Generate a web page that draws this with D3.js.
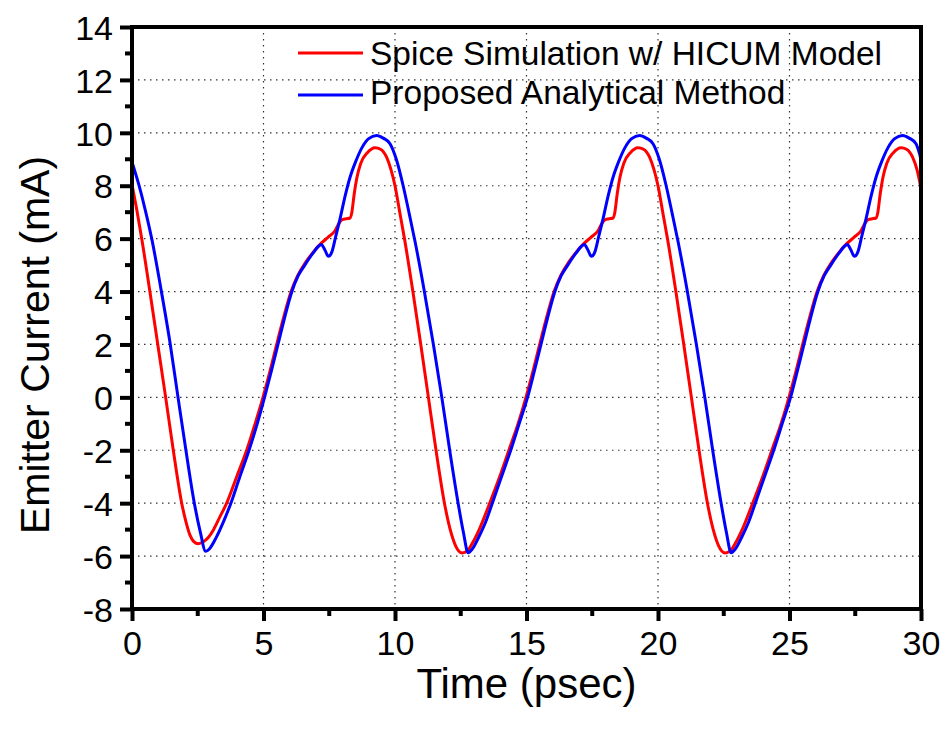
<!DOCTYPE html>
<html>
<head>
<meta charset="utf-8">
<script src="https://cdn.jsdelivr.net/npm/d3@7"></script>
<style>
  html, body { margin: 0; padding: 0; background: #fff; }
  svg { display: block; font-family: Arial, "Liberation Sans", sans-serif; }
</style>
</head>
<body>
<svg id="chart" width="948" height="740"></svg>
<script>
// ---- data ----
const seriesNames = ["Spice Simulation w/ HICUM Model", "Proposed Analytical Method"];
const seriesColors = ["#ff0000", "#0000ff"];

const spiceTime = [
  0.00,0.18,0.37,0.68,0.98,1.28,1.57,1.89,2.05,2.20,2.35,2.52,2.70,2.90,3.10,3.35,3.60,3.98,4.36,4.68,
  4.98,5.25,5.50,5.76,6.05,6.30,6.60,6.90,7.17,7.45,7.72,7.88,8.00,8.15,8.29,8.36,8.45,8.55,8.70,8.95,
  9.24,9.45,9.68,9.85,10.00,10.18,10.36,10.68,10.98,11.27,11.56,11.88,12.10,12.30,12.55,12.75,12.95,13.20,13.60,13.98,
  14.33,14.68,14.98,15.25,15.50,15.76,16.05,16.30,16.60,16.90,17.17,17.45,17.72,17.88,18.00,18.15,18.29,18.36,18.45,18.55,
  18.70,18.95,19.24,19.45,19.68,19.85,20.00,20.18,20.36,20.68,20.98,21.27,21.56,21.88,22.10,22.30,22.55,22.75,22.95,23.20,
  23.60,23.98,24.33,24.68,24.98,25.25,25.50,25.76,26.05,26.30,26.60,26.90,27.17,27.45,27.72,27.88,28.00,28.15,28.29,28.36,
  28.45,28.55,28.70,28.95,29.24,29.45,29.68,29.85,30.00
];
const spiceCurrent = [
  8.05,7.10,6.00,4.00,2.00,0.00,-2.00,-4.00,-4.70,-5.20,-5.45,-5.53,-5.47,-5.30,-5.00,-4.50,-4.00,-3.00,-2.00,-1.00,
  0.00,1.00,2.00,3.00,4.00,4.60,5.10,5.50,5.80,6.05,6.30,6.60,6.72,6.75,6.78,7.00,7.70,8.30,8.85,9.25,
  9.44,9.38,9.08,8.60,8.00,7.00,6.00,4.00,2.00,0.00,-2.00,-4.00,-5.00,-5.60,-5.88,-5.80,-5.50,-5.00,-4.00,-3.00,
  -2.00,-1.00,0.00,1.00,2.00,3.00,4.00,4.60,5.10,5.50,5.80,6.05,6.30,6.60,6.72,6.75,6.78,7.00,7.70,8.30,
  8.85,9.25,9.44,9.38,9.08,8.60,8.00,7.00,6.00,4.00,2.00,0.00,-2.00,-4.00,-5.00,-5.60,-5.88,-5.80,-5.50,-5.00,
  -4.00,-3.00,-2.00,-1.00,0.00,1.00,2.00,3.00,4.00,4.60,5.10,5.50,5.80,6.05,6.30,6.60,6.72,6.75,6.78,7.00,
  7.70,8.30,8.85,9.25,9.44,9.38,9.08,8.60,7.90
];

const modelTime = [
  0.00,0.27,0.50,0.75,1.10,1.44,1.75,2.05,2.37,2.60,2.80,2.95,3.20,3.50,3.76,4.10,4.45,4.76,5.04,
  5.30,5.55,5.80,6.08,6.32,6.57,6.88,7.10,7.20,7.32,7.47,7.60,7.75,7.91,8.10,8.30,8.50,8.75,9.00,9.30,
  9.55,9.81,10.05,10.31,10.55,10.76,11.10,11.46,11.78,12.08,12.40,12.60,12.78,12.95,13.20,13.45,13.70,14.05,14.40,14.72,
  15.04,15.30,15.55,15.80,16.08,16.32,16.57,16.88,17.10,17.20,17.32,17.47,17.60,17.75,17.91,18.10,18.30,18.50,18.75,19.00,
  19.30,19.55,19.81,20.05,20.31,20.55,20.76,21.10,21.46,21.78,22.08,22.40,22.60,22.78,22.95,23.20,23.45,23.70,24.05,24.40,
  24.72,25.04,25.30,25.55,25.80,26.08,26.32,26.57,26.88,27.10,27.20,27.32,27.47,27.60,27.75,27.91,28.10,28.30,28.50,28.75,
  29.00,29.30,29.55,29.81,30.00
];
const modelCurrent = [
  8.90,8.00,7.10,6.00,4.10,2.10,0.00,-2.00,-4.00,-5.10,-5.82,-5.72,-5.30,-4.65,-4.00,-3.00,-2.00,-1.00,0.00,
  1.00,2.00,3.00,4.00,4.60,5.00,5.45,5.72,5.78,5.60,5.33,5.50,6.10,6.75,7.60,8.35,8.90,9.45,9.78,9.90,
  9.80,9.59,9.00,8.00,6.90,5.90,4.10,2.00,0.00,-2.00,-4.00,-5.10,-5.87,-5.72,-5.25,-4.70,-4.00,-3.00,-2.00,-1.00,
  0.00,1.00,2.00,3.00,4.00,4.60,5.00,5.45,5.72,5.78,5.60,5.33,5.50,6.10,6.75,7.60,8.35,8.90,9.45,9.78,
  9.90,9.80,9.59,9.00,8.00,6.90,5.90,4.10,2.00,0.00,-2.00,-4.00,-5.10,-5.87,-5.72,-5.25,-4.70,-4.00,-3.00,-2.00,
  -1.00,0.00,1.00,2.00,3.00,4.00,4.60,5.00,5.45,5.72,5.78,5.60,5.33,5.50,6.10,6.75,7.60,8.35,8.90,9.45,
  9.78,9.90,9.80,9.59,9.00
];

const xTicks = [0, 5, 10, 15, 20, 25, 30];
const yTicks = [-8, -6, -4, -2, 0, 2, 4, 6, 8, 10, 12, 14];
const xMinor = [2.5, 7.5, 12.5, 17.5, 22.5, 27.5];
const yMinor = [-7, -5, -3, -1, 1, 3, 5, 7, 9, 11, 13];
const xTitle = "Time (psec)";
const yTitle = "Emitter Current (mA)";

// ---- layout ----
const W = 948, H = 740;
const margin = { left: 132, top: 27, right: 27, bottom: 131 };
const iw = W - margin.left - margin.right;
const ih = H - margin.top - margin.bottom;

const svg = d3.select("#chart");
const g = svg.append("g").attr("transform", `translate(${margin.left},${margin.top})`);

const x = d3.scaleLinear().domain([0, 30]).range([0, iw]);
const y = d3.scaleLinear().domain([-8, 14]).range([ih, 0]);

// grid
const grid = g.append("g").attr("class", "grid");
grid.selectAll("line.gx").data(xTicks.filter(d => d > 0 && d < 30)).enter().append("line")
  .attr("x1", d => x(d)).attr("x2", d => x(d)).attr("y1", 0).attr("y2", ih)
  .attr("stroke", "#333").attr("stroke-width", 1.2).attr("stroke-dasharray", "1.5,4.5");
grid.selectAll("line.gy").data(yTicks.filter(d => d > -8 && d < 14)).enter().append("line")
  .attr("y1", d => y(d)).attr("y2", d => y(d)).attr("x1", 0).attr("x2", iw)
  .attr("stroke", "#333").attr("stroke-width", 1.2).attr("stroke-dasharray", "1.5,4.5");

// series
const spice = spiceTime.map((t, i) => [t, spiceCurrent[i]]);
const model = modelTime.map((t, i) => [t, modelCurrent[i]]);
const line = d3.line().x(d => x(d[0])).y(d => y(d[1])).curve(d3.curveMonotoneX);

g.append("clipPath").attr("id", "clip").append("rect")
  .attr("x", 0).attr("y", 0).attr("width", iw).attr("height", ih);

g.append("path").datum(spice).attr("d", line).attr("fill", "none")
  .attr("stroke", seriesColors[0]).attr("stroke-width", 3).attr("stroke-linejoin", "round")
  .attr("clip-path", "url(#clip)");
g.append("path").datum(model).attr("d", line).attr("fill", "none")
  .attr("stroke", seriesColors[1]).attr("stroke-width", 3).attr("stroke-linejoin", "round")
  .attr("clip-path", "url(#clip)");

// axes
const fontSize = 34;
const fmt = d => String(d);
const xAxis = d3.axisBottom(x).tickValues(xTicks).tickSize(12).tickPadding(10).tickFormat(fmt);
const yAxis = d3.axisLeft(y).tickValues(yTicks).tickSize(12).tickPadding(7).tickFormat(fmt);

const gx = g.append("g").attr("transform", `translate(0,${ih})`).call(xAxis);
const gy = g.append("g").call(yAxis);
[gx, gy].forEach(a => {
  a.select(".domain").remove();
  a.selectAll(".tick line").attr("stroke", "#000").attr("stroke-width", 4);
  a.selectAll(".tick text").attr("fill", "#000").attr("font-size", fontSize)
    .attr("font-family", "Arial, 'Liberation Sans', sans-serif");
});
gy.selectAll(".tick text").attr("dy", "0.36em");
gx.selectAll(".tick text").attr("dy", "0.71em");

// minor ticks
g.selectAll("line.mx").data(xMinor).enter().append("line")
  .attr("x1", d => x(d)).attr("x2", d => x(d)).attr("y1", ih).attr("y2", ih + 7)
  .attr("stroke", "#000").attr("stroke-width", 4);
g.selectAll("line.my").data(yMinor).enter().append("line")
  .attr("y1", d => y(d)).attr("y2", d => y(d)).attr("x1", 0).attr("x2", -7)
  .attr("stroke", "#000").attr("stroke-width", 4);

// frame
g.append("rect").attr("x", 0).attr("y", 0).attr("width", iw).attr("height", ih)
  .attr("fill", "none").attr("stroke", "#000").attr("stroke-width", 4);

// axis titles
svg.append("text").attr("x", margin.left + iw / 2).attr("y", 698)
  .attr("text-anchor", "middle").attr("font-size", 42).attr("fill", "#000").text(xTitle);
svg.append("text").attr("transform", `translate(49,345) rotate(-90)`)
  .attr("text-anchor", "middle").attr("font-size", 41).attr("fill", "#000").text(yTitle);

// legend
const legendLineY = [53, 95];
const legendTextY = [65, 104];
const leg = svg.append("g");
seriesNames.forEach((name, i) => {
  leg.append("line").attr("x1", 298).attr("x2", 363).attr("y1", legendLineY[i]).attr("y2", legendLineY[i])
    .attr("stroke", seriesColors[i]).attr("stroke-width", 3);
  leg.append("text").attr("x", 370).attr("y", legendTextY[i])
    .attr("font-size", 33.5).attr("fill", "#000").text(name);
});
</script>
</body>
</html>
